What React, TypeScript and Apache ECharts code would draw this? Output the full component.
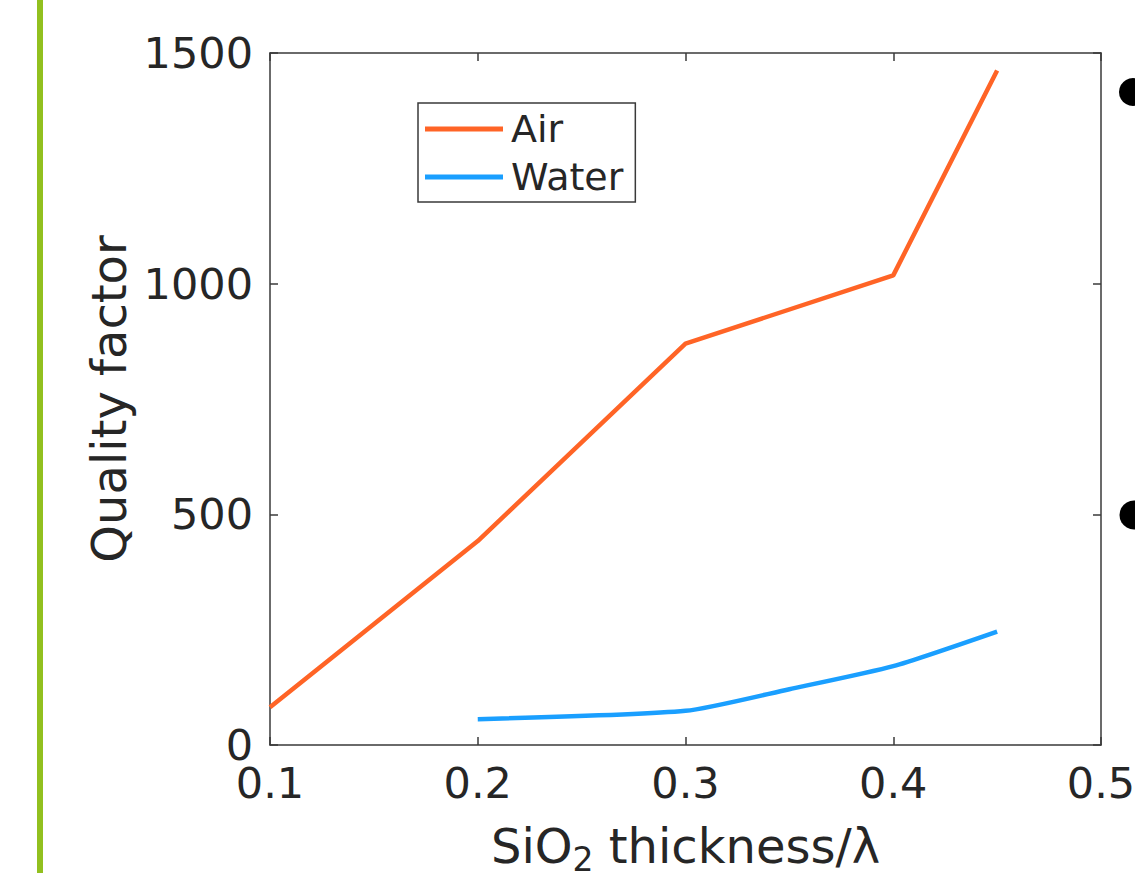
import React, { useEffect, useRef } from "react";
import * as echarts from "echarts";

const thickness = [0.1, 0.2, 0.3, 0.4, 0.45];
const airQ = [82, 442, 870, 1018, 1462];
const waterThickness = [0.2, 0.3, 0.35, 0.4, 0.45];
const waterQ = [56, 74, 121, 171, 246];
const seriesNames = ["Air", "Water"];
const yTicks = [0, 500, 1000, 1500];
const xTicks = [0.1, 0.2, 0.3, 0.4, 0.5];

const FONT = "DejaVu Sans";
const TXT = "#262626";
const AX = "#3a3a3a";
const ORANGE = "#ff6426";
const BLUE = "#1a9fff";

export default function App() {
  const ref = useRef<HTMLDivElement>(null);
  useEffect(() => {
    if (!ref.current) return;
    const chart = echarts.init(ref.current, null, { renderer: "svg" });
    const axisCommon = {
      axisLine: { show: true, onZero: false, lineStyle: { color: AX, width: 1.5 } },
      axisTick: { show: true, inside: true, length: 8, lineStyle: { color: AX, width: 1.5 } },
      splitLine: { show: false },
    };
    const xMin = xTicks[0];
    const xMax = xTicks[xTicks.length - 1];
    const yMin = yTicks[0];
    const yMax = yTicks[yTicks.length - 1];
    chart.setOption({
      animation: false,
      backgroundColor: "#ffffff",
      grid: { left: 270, top: 53, width: 831, height: 692, containLabel: false, outerBoundsMode: "none" },
      xAxis: [
        {
          type: "value",
          min: xMin,
          max: xMax,
          interval: 0.1,
          ...axisCommon,
          axisLabel: {
            show: true,
            margin: 16,
            fontSize: 43,
            fontFamily: FONT,
            color: TXT,
            formatter: (v: number) => v.toFixed(1),
          },
          name: "{a|SiO}{s|2}{a| thickness/λ}",
          nameLocation: "middle",
          nameGap: 70,
          nameTextStyle: {
            fontFamily: FONT,
            color: TXT,
            fontSize: 48,
            rich: {
              a: { fontSize: 48, fontFamily: FONT, color: TXT },
              s: { fontSize: 33, fontFamily: FONT, color: TXT, padding: [28, 0, 0, 0] },
            },
          },
        },
        {
          type: "value",
          position: "top",
          min: xMin,
          max: xMax,
          interval: 0.1,
          ...axisCommon,
          axisLabel: { show: false },
        },
      ],
      yAxis: [
        {
          type: "value",
          min: yMin,
          max: yMax,
          interval: 500,
          ...axisCommon,
          axisLabel: {
            show: true,
            margin: 17,
            fontSize: 43,
            fontFamily: FONT,
            color: TXT,
            formatter: (v: number) => String(v),
          },
          name: "Quality factor",
          nameLocation: "middle",
          nameRotate: 90,
          nameGap: 134,
          nameTextStyle: { fontFamily: FONT, color: TXT, fontSize: 48 },
        },
        {
          type: "value",
          position: "right",
          min: yMin,
          max: yMax,
          interval: 500,
          ...axisCommon,
          axisLabel: { show: false },
        },
      ],
      legend: {
        left: 418,
        top: 103,
        orient: "vertical",
        data: seriesNames,
        icon: "rect",
        itemWidth: 78,
        itemHeight: 5,
        itemGap: 10,
        padding: [7, 12, 6, 7],
        borderColor: AX,
        borderWidth: 1.5,
        backgroundColor: "#ffffff",
        textStyle: { fontSize: 38, fontFamily: FONT, color: TXT, padding: [0, 0, 0, 3] },
      },
      graphic: [
        { type: "rect", shape: { x: 37, y: 0, width: 6, height: 873 }, style: { fill: "#92c01f" } },
        { type: "circle", shape: { cx: 1133, cy: 92, r: 14 }, style: { fill: "#000000" } },
        { type: "circle", shape: { cx: 1134, cy: 515, r: 14.5 }, style: { fill: "#000000" } },
      ],
      series: [
        {
          name: seriesNames[0],
          type: "line",
          data: thickness.map((x, i) => [x, airQ[i]]),
          symbol: "none",
          lineStyle: { color: ORANGE, width: 4.5 },
          itemStyle: { color: ORANGE },
        },
        {
          name: seriesNames[1],
          type: "line",
          data: waterThickness.map((x, i) => [x, waterQ[i]]),
          symbol: "none",
          smooth: 0.2,
          lineStyle: { color: BLUE, width: 4.5 },
          itemStyle: { color: BLUE },
        },
      ],
    });
    return () => chart.dispose();
  }, []);
  return (
    <div
      ref={ref}
      style={{ position: "fixed", left: 0, top: 0, width: 1135, height: 873, background: "#fff" }}
    />
  );
}
